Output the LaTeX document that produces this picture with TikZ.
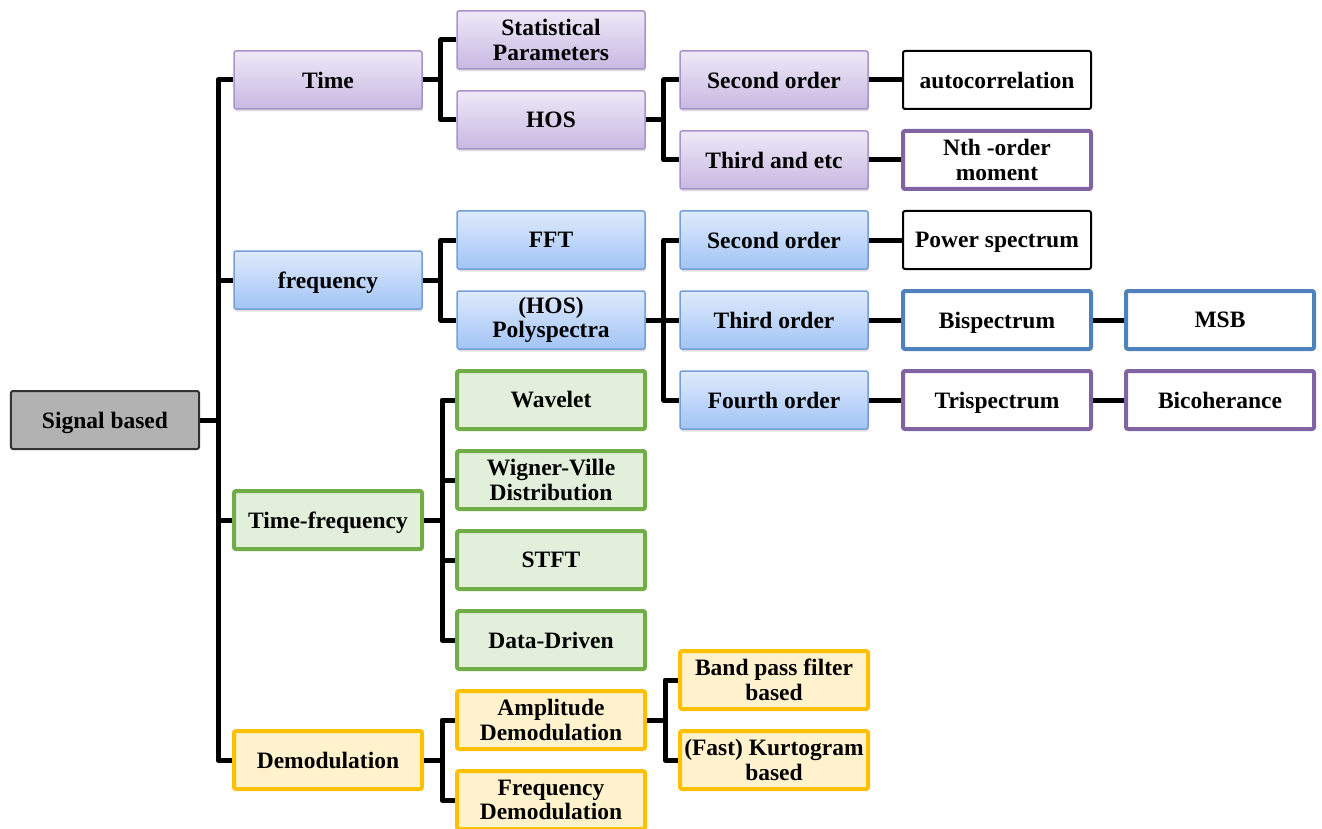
\documentclass[tikz,border=0pt]{standalone}
\usepackage{fontspec}
\setmainfont{Liberation Serif}
\usetikzlibrary{shadows}

\definecolor{rootcolor}{RGB}{178,178,178}
\definecolor{rootline}{RGB}{50,50,50}
\definecolor{timetop}{RGB}{238,233,247}
\definecolor{timebottom}{RGB}{200,184,226}
\definecolor{timeline}{RGB}{168,148,204}
\definecolor{freqtop}{RGB}{222,234,252}
\definecolor{freqbottom}{RGB}{163,196,245}
\definecolor{freqline}{RGB}{118,158,215}
\definecolor{tfcolor}{RGB}{226,239,218}
\definecolor{tfline}{RGB}{112,173,71}
\definecolor{demodcolor}{RGB}{255,242,204}
\definecolor{demodline}{RGB}{255,192,0}
\definecolor{purpleline}{RGB}{128,100,162}
\definecolor{blueline}{RGB}{79,129,189}

\begin{document}
\begin{tikzpicture}[x=223pt, y=-40pt, thick,
    main/.style = {draw, rounded corners=2pt, minimum width=188pt, minimum height=58pt,
        inner sep=1pt, align=center, font=\fontsize{23.5}{24.5}\selectfont\bfseries},
    nodepth/.style = {text depth=0pt},
    root/.style = {main, fill=rootcolor, draw=rootline, line width=2pt},
    timebox/.style = {main, top color=timetop, bottom color=timebottom, draw=timeline,
        line width=1.5pt, drop shadow={opacity=0.25, shadow xshift=1pt, shadow yshift=-2.5pt}},
    freqbox/.style = {main, top color=freqtop, bottom color=freqbottom, draw=freqline,
        line width=1.5pt, drop shadow={opacity=0.25, shadow xshift=1pt, shadow yshift=-2.5pt}},
    tfbox/.style = {main, fill=tfcolor, draw=tfline, line width=4pt},
    demodbox/.style = {main, fill=demodcolor, draw=demodline, line width=4pt},
    plainbox/.style = {main, fill=white, draw=black, line width=2pt},
    purplebox/.style = {main, fill=white, draw=purpleline, line width=4pt},
    bluebox/.style = {main, fill=white, draw=blueline, line width=4pt},
    link/.style = {line width=5pt, line join=round}]
    \useasboundingbox (-105pt,40pt) rectangle (1217pt,-789pt);

    % root
    \node[root, nodepth] (Signal) at (0,9.5) {Signal based};

    % first level
    \node[timebox] (Time) at (1,1) {Time};
    \node[freqbox, nodepth] (Freq) at (1,6) {frequency};
    \node[tfbox, nodepth] (TimeFreq) at (1,12) {Time-frequency};
    \node[demodbox] (Demod) at (1,18) {Demodulation};

    % second level
    \node[timebox] (Stat) at (2,0) {Statistical\\Parameters};
    \node[timebox] (HOS) at (2,2) {HOS};
    \node[freqbox] (FFT) at (2,5) {FFT};
    \node[freqbox] (Poly) at (2,7) {(HOS)\\Polyspectra};
    \node[tfbox] (Wavelet) at (2,9) {Wavelet};
    \node[tfbox] (Wigner) at (2,11) {Wigner-Ville\\Distribution};
    \node[tfbox] (STFT) at (2,13) {STFT};
    \node[tfbox] (DataDriven) at (2,15) {Data-Driven};
    \node[demodbox] (AmpDemod) at (2,17) {Amplitude\\Demodulation};
    \node[demodbox] (FreqDemod) at (2,19) {Frequency\\Demodulation};

    % third level
    \node[timebox] (SecondT) at (3,1) {Second order};
    \node[timebox] (ThirdT) at (3,3) {Third and etc};
    \node[freqbox] (SecondF) at (3,5) {Second order};
    \node[freqbox] (ThirdF) at (3,7) {Third order};
    \node[freqbox] (FourthF) at (3,9) {Fourth order};
    \node[demodbox] (BandPass) at (3,16) {Band pass filter\\based};
    \node[demodbox] (Kurtogram) at (3,18) {(Fast) Kurtogram\\based};

    % fourth and fifth level
    \node[plainbox] (Auto) at (4,1) {autocorrelation};
    \node[purplebox] (Moment) at (4,3) {Nth -order\\moment};
    \node[plainbox, nodepth] (Power) at (4,5) {Power spectrum};
    \node[bluebox, nodepth] (Bispec) at (4,7) {Bispectrum};
    \node[purplebox, nodepth] (Trispec) at (4,9) {Trispectrum};
    \node[bluebox] (MSB) at (5,7) {MSB};
    \node[purplebox] (Bicoh) at (5,9) {Bicoherance};

    % connectors
    \foreach \c in {Time,Freq,TimeFreq,Demod}
        \draw[link] (Signal.east) -- ++(18pt,0) |- (\c.west);
    \foreach \c in {Stat,HOS}
        \draw[link] (Time.east) -- ++(18pt,0) |- (\c.west);
    \foreach \c in {FFT,Poly}
        \draw[link] (Freq.east) -- ++(18pt,0) |- (\c.west);
    \foreach \c in {Wavelet,Wigner,STFT,DataDriven}
        \draw[link] (TimeFreq.east) -- ++(18pt,0) |- (\c.west);
    \foreach \c in {AmpDemod,FreqDemod}
        \draw[link] (Demod.east) -- ++(18pt,0) |- (\c.west);
    \foreach \c in {SecondT,ThirdT}
        \draw[link] (HOS.east) -- ++(18pt,0) |- (\c.west);
    \foreach \c in {SecondF,ThirdF,FourthF}
        \draw[link] (Poly.east) -- ++(18pt,0) |- (\c.west);
    \foreach \c in {BandPass,Kurtogram}
        \draw[link] (AmpDemod.east) -- ++(18pt,0) |- (\c.west);

    \draw[link] (SecondT) -- (Auto);
    \draw[link] (ThirdT) -- (Moment);
    \draw[link] (SecondF) -- (Power);
    \draw[link] (ThirdF) -- (Bispec);
    \draw[link] (FourthF) -- (Trispec);
    \draw[link] (Bispec) -- (MSB);
    \draw[link] (Trispec) -- (Bicoh);
\end{tikzpicture}
\end{document}
